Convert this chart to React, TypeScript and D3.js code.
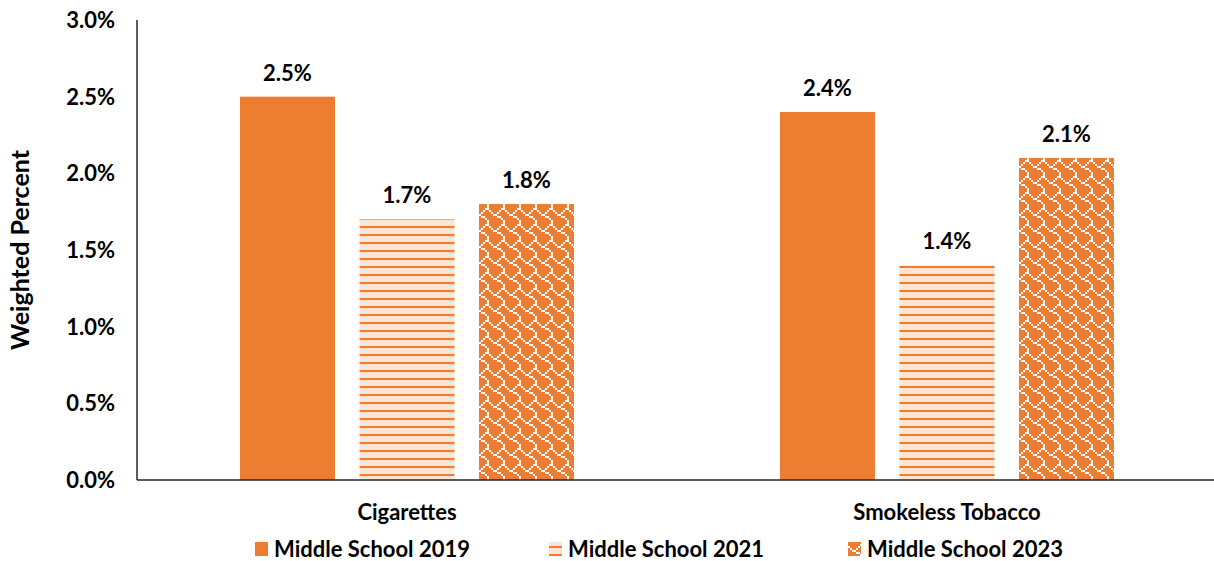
import React from "react";
import * as d3 from "d3";

const categories = ["Cigarettes", "Smokeless Tobacco"];
const seriesNames = ["Middle School 2019", "Middle School 2021", "Middle School 2023"];
const values2019 = [2.5, 2.4];
const values2021 = [1.7, 1.4];
const values2023 = [1.8, 2.1];
const yTicks = [0, 0.5, 1.0, 1.5, 2.0, 2.5, 3.0];

const W = 1214;
const H = 561;
const FONT = "Lato, 'Open Sans', sans-serif";
const ORANGE = "#ED7D31";
// 8x8 shingle hatch bits (white pixels)
const SHINGLE = [0x03, 0x84, 0x48, 0x30, 0x0c, 0x02, 0x01, 0x01];

export default function App() {
  const series = [values2019, values2021, values2023];
  const left = 137;
  const right = 1217;
  const top = 20;
  const bottom = 480;
  const x = d3.scaleBand<string>().domain(categories).range([left, right]).paddingInner(0).paddingOuter(0);
  const x1 = d3.scaleBand<string>().domain(seriesNames).range([0, x.bandwidth()]).paddingInner(0.205).paddingOuter(0.862);
  const y = d3.scaleLinear().domain([0, 3]).range([bottom, top]);
  const fills = [ORANGE, "url(#hatch)", "url(#shingle)"];
  const legendX = [255, 549, 848];

  const shinglePixels: { px: number; py: number }[] = [];
  SHINGLE.forEach((row, py) => {
    for (let px = 0; px < 8; px++) if (row & (0x80 >> px)) shinglePixels.push({ px, py });
  });

  return (
    <svg width={W} height={H} style={{ position: "absolute", left: 0, top: 0, background: "#fff" }}>
      <defs>
        <pattern id="hatch" width="8" height="8" patternUnits="userSpaceOnUse" y={2}>
          <rect width="8" height="8" fill="#FBE5D6" />
          <rect y="0" width="8" height="2" fill={ORANGE} />
        </pattern>
        <pattern id="shingle" width="16" height="16" patternUnits="userSpaceOnUse">
          <rect width="16" height="16" fill={ORANGE} />
          {shinglePixels.map((p, i) => (
            <rect key={i} x={p.px * 2} y={p.py * 2} width={2} height={2} fill="#fff" shapeRendering="crispEdges" />
          ))}
        </pattern>
      </defs>

      {/* Y axis ticks */}
      {yTicks.map((t) => (
        <text key={t} x={115} y={y(t)} dy="0.36em" textAnchor="end" fontFamily={FONT} fontWeight={700} fontSize={22} fill="#000">
          {t.toFixed(1)}%
        </text>
      ))}
      <text transform={`translate(20,${(top + bottom) / 2}) rotate(-90)`} dy="0.36em" textAnchor="middle" fontFamily={FONT} fontWeight={700} fontSize={25} fill="#000">
        Weighted Percent
      </text>

      {/* bars */}
      {categories.map((c, ci) => (
        <g key={c} transform={`translate(${x(c)},0)`}>
          {series.map((vals, si) => {
            const bx = x1(seriesNames[si])!;
            const by = y(vals[ci]);
            return (
              <g key={si}>
                <rect x={bx} y={by} width={x1.bandwidth()} height={bottom - by} fill={fills[si]} />
                <text x={bx + x1.bandwidth() / 2} y={by - 16} textAnchor="middle" fontFamily={FONT} fontWeight={700} fontSize={22} fill="#000">
                  {vals[ci].toFixed(1)}%
                </text>
              </g>
            );
          })}
          <text x={x.bandwidth() / 2} y={520} textAnchor="middle" fontFamily={FONT} fontWeight={700} fontSize={22} fill="#000">
            {c}
          </text>
        </g>
      ))}

      {/* axes lines */}
      <line x1={left} x2={left} y1={top} y2={bottom} stroke="#262626" strokeWidth={1.5} />
      <line x1={left} x2={W} y1={bottom} y2={bottom} stroke="#262626" strokeWidth={1.5} />

      {/* legend */}
      {seriesNames.map((s, i) => (
        <g key={s} transform={`translate(${legendX[i]},0)`}>
          <rect x={0} y={542} width={13} height={14} fill={fills[i]} />
          <text x={19} y={557} fontFamily={FONT} fontWeight={700} fontSize={22} fill="#000">
            {s}
          </text>
        </g>
      ))}
    </svg>
  );
}
